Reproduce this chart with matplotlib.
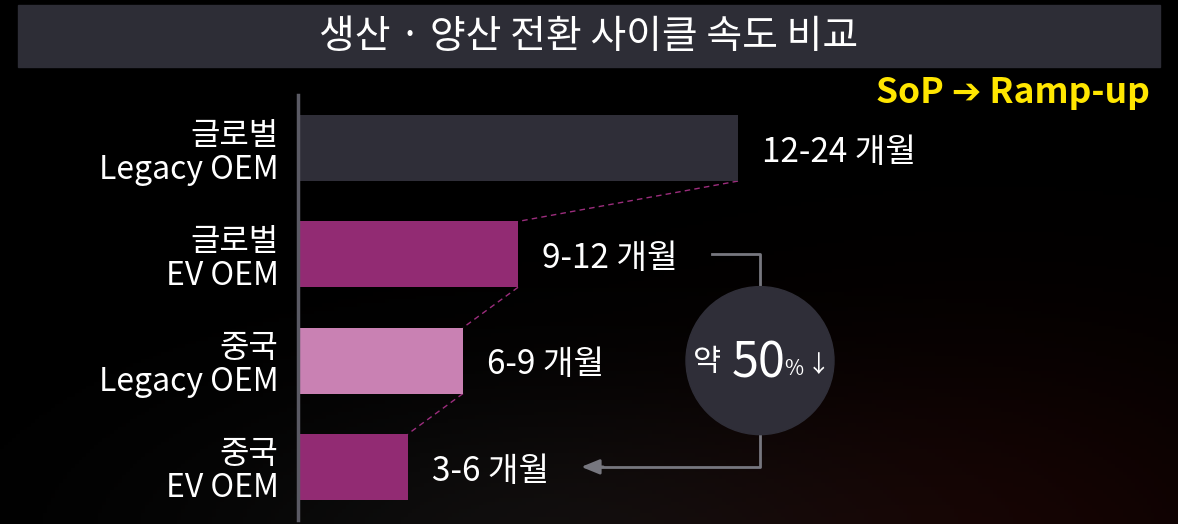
import matplotlib
matplotlib.use('Agg')
import matplotlib.pyplot as plt
from matplotlib.patches import Rectangle, Ellipse
import numpy as np

plt.rcParams['font.family'] = ['Noto Sans CJK KR', 'DejaVu Sans']

# data
categories = ['글로벌\nLegacy OEM', '글로벌\nEV OEM', '중국\nLegacy OEM', '중국\nEV OEM']
months_max = [24, 12, 9, 6]
value_labels = ['12-24 개월', '9-12 개월', '6-9 개월', '3-6 개월']
bar_colors = ['#2f2e38', '#922b73', '#c981b3', '#922b73']
title = '생산 · 양산 전환 사이클 속도 비교'
subtitle = 'SoP ➔ Ramp-up'

W, H = 1178, 524
fig = plt.figure(figsize=(W / 100, H / 100), dpi=100)
fig.patch.set_facecolor('black')

# subtle background glow
bg = fig.add_axes([0, 0, 1, 1], zorder=-5)
gx, gy = np.meshgrid(np.linspace(0, 1, 300), np.linspace(0, 1, 140))
red = np.exp(-(((gx - 0.85) / 0.3) ** 2 + ((gy + 0.05) / 0.4) ** 2))
gray = np.exp(-(((gx - 0.45) / 0.3) ** 2 + ((gy + 0.05) / 0.3) ** 2))
img = np.zeros(gx.shape + (3,))
img[..., 0] = 20 * red + 14 * gray
img[..., 1] = 3 * red + 14 * gray
img[..., 2] = 2 * red + 14 * gray
bg.imshow(img / 255.0, origin='lower', extent=[0, 1, 0, 1], aspect='auto')
bg.set_axis_off()

# title bar
fig.patches.append(Rectangle((18 / W, 1 - 67 / H), (1160 - 18) / W, 62 / H,
                             transform=fig.transFigure, color='#2d2d36', zorder=0))
fig.text(0.5, 1 - 37 / H, title, color='white', fontsize=28,
         ha='center', va='center')
fig.text(1150 / W, 1 - 93 / H, subtitle, color='#ffe600', fontsize=25.5,
         fontweight='bold', ha='right', va='center')

ax = fig.add_axes([298 / W, 4 / H, 1 - 298 / W, 425 / H])
ax.set_facecolor('none')
y = np.arange(len(categories))
bar_h = 0.62
ax.barh(y, months_max, height=bar_h, color=bar_colors, zorder=2)
ax.set_xlim(0, 48)
ax.set_ylim(3.5, -0.5)
ax.set_yticks(y)
ax.set_yticklabels(categories, color='white', fontsize=23, linespacing=1.08)
ax.tick_params(axis='y', length=0, pad=14)
ax.set_xticks([])
for s in ['top', 'right', 'bottom']:
    ax.spines[s].set_visible(False)
ax.spines['left'].set_color('#5a5a64')
ax.spines['left'].set_linewidth(2.5)

# value labels
for i, (v, lab) in enumerate(zip(months_max, value_labels)):
    ax.text(v + 1.3, i + 0.04, lab, color='white', fontsize=24, ha='left', va='center')

# dashed connectors between bar ends
for i in range(len(months_max) - 1):
    ax.plot([months_max[i], months_max[i + 1]],
            [i + bar_h / 2, i + 1 - bar_h / 2],
            color='#9c2d7d', lw=1, ls=(0, (4, 3)), zorder=1)

# bracket with circle
cx, cy = 25.2, 2
bx0 = 22.6
ax.plot([bx0, cx, cx], [1, 1, cy], color='#77777f', lw=2, zorder=1)
ax.plot([cx, cx, 16.4], [cy, 3, 3], color='#77777f', lw=2, zorder=1)
ax.annotate('', xy=(15.3, 3), xytext=(16.8, 3),
            arrowprops=dict(arrowstyle='-|>,head_length=1.1,head_width=0.45',
                            color='#77777f', lw=2), zorder=1)
r_px = 74
ax.add_patch(Ellipse((cx, cy), 2 * r_px / (880 / 48), 2 * r_px / (425 / 4),
                     color='#2f2e38', zorder=3))
for txt, dx, dy, fs in [('약', -53, -2, 22), ('50', -1, -3, 35),
                        ('%', 34, -8, 15), ('↓', 59, -5, 17)]:
    ax.annotate(txt, xy=(cx, cy), xytext=(dx, dy), textcoords='offset pixels',
                color='white', fontsize=fs, ha='center', va='center', zorder=4)

fig.savefig('out.png', dpi=100, facecolor=fig.get_facecolor())
